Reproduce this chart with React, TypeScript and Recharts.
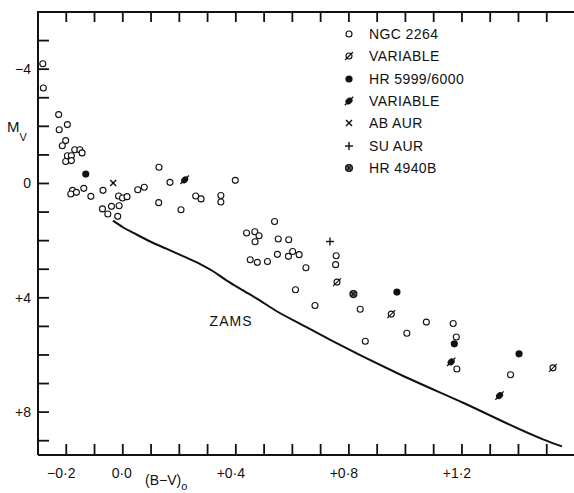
import React from "react";
import { ComposedChart, Scatter, Line, XAxis, YAxis, ReferenceDot } from "recharts";

const INK = "#111";
const FONT = "'Liberation Sans', Arial, Helvetica, sans-serif";
const TICK = 11;
const BV_MIN = -0.3;
const BV_MAX = 1.6;
const MV_TOP = -6;
const MV_BOTTOM = 9.5;

const CHART_W = 580;
const CHART_H = 493;
const MARGIN = { top: 12, right: 5, bottom: 0, left: 0 };
const Y_AXIS_W = 38;

// NGC 2264 members, (B-V)o against Mv
const ngc2264 = [
  { bv: -0.283, mv: -4.19 }, { bv: -0.281, mv: -3.34 }, { bv: -0.227, mv: -2.41 },
  { bv: -0.225, mv: -1.88 }, { bv: -0.196, mv: -2.06 }, { bv: -0.202, mv: -1.5 },
  { bv: -0.214, mv: -1.32 }, { bv: -0.17, mv: -1.18 }, { bv: -0.152, mv: -1.18 },
  { bv: -0.144, mv: -1.07 }, { bv: -0.196, mv: -0.97 }, { bv: -0.182, mv: -0.97 },
  { bv: -0.202, mv: -0.77 }, { bv: -0.182, mv: -0.8 }, { bv: -0.178, mv: 0.24 },
  { bv: -0.184, mv: 0.37 }, { bv: -0.164, mv: 0.31 }, { bv: -0.138, mv: 0.17 },
  { bv: -0.113, mv: 0.45 }, { bv: -0.07, mv: 0.24 }, { bv: -0.072, mv: 0.89 },
  { bv: -0.053, mv: 1.07 }, { bv: -0.04, mv: 0.8 }, { bv: -0.018, mv: 1.15 },
  { bv: -0.013, mv: 0.78 }, { bv: -0.015, mv: 0.44 }, { bv: -0.001, mv: 0.51 },
  { bv: 0.015, mv: 0.46 }, { bv: 0.053, mv: 0.22 }, { bv: 0.076, mv: 0.13 },
  { bv: 0.128, mv: -0.57 }, { bv: 0.127, mv: 0.67 }, { bv: 0.167, mv: -0.04 },
  { bv: 0.206, mv: 0.92 }, { bv: 0.258, mv: 0.44 }, { bv: 0.277, mv: 0.54 },
  { bv: 0.347, mv: 0.42 }, { bv: 0.347, mv: 0.65 }, { bv: 0.398, mv: -0.11 },
  { bv: 0.537, mv: 1.33 }, { bv: 0.438, mv: 1.73 }, { bv: 0.467, mv: 1.69 },
  { bv: 0.482, mv: 1.83 }, { bv: 0.468, mv: 2.04 }, { bv: 0.55, mv: 1.94 },
  { bv: 0.587, mv: 1.97 }, { bv: 0.451, mv: 2.67 }, { bv: 0.476, mv: 2.76 },
  { bv: 0.512, mv: 2.73 }, { bv: 0.547, mv: 2.48 }, { bv: 0.586, mv: 2.55 },
  { bv: 0.601, mv: 2.38 }, { bv: 0.624, mv: 2.49 }, { bv: 0.648, mv: 2.95 },
  { bv: 0.611, mv: 3.72 }, { bv: 0.68, mv: 4.27 }, { bv: 0.755, mv: 2.53 },
  { bv: 0.753, mv: 2.84 }, { bv: 0.84, mv: 4.4 }, { bv: 0.858, mv: 5.52 },
  { bv: 1.005, mv: 5.24 }, { bv: 1.074, mv: 4.85 }, { bv: 1.169, mv: 4.9 },
  { bv: 1.18, mv: 5.37 }, { bv: 1.182, mv: 6.49 }, { bv: 1.372, mv: 6.69 },
];
const ngcVariable = [
  { bv: 0.758, mv: 3.45 }, { bv: 0.95, mv: 4.57 }, { bv: 1.522, mv: 6.45 },
];
const hr5999 = [
  { bv: -0.131, mv: -0.33 }, { bv: 0.97, mv: 3.8 }, { bv: 1.173, mv: 5.61 }, { bv: 1.402, mv: 5.96 },
];
const hr5999Variable = [
  { bv: 0.219, mv: -0.13 }, { bv: 1.162, mv: 6.24 }, { bv: 1.333, mv: 7.42 },
];
const abAur = [{ bv: -0.034, mv: -0.02 }];
const suAur = [{ bv: 0.733, mv: 2.03 }];
const hr4940b = [{ bv: 0.816, mv: 3.87 }];

// zero-age main sequence
const zams = [
  { bv: -0.035, mv: 1.3 }, { bv: 0.002, mv: 1.54 }, { bv: 0.038, mv: 1.73 },
  { bv: 0.097, mv: 2.03 }, { bv: 0.156, mv: 2.29 }, { bv: 0.215, mv: 2.55 },
  { bv: 0.274, mv: 2.82 }, { bv: 0.321, mv: 3.08 }, { bv: 0.368, mv: 3.4 },
  { bv: 0.427, mv: 3.75 }, { bv: 0.486, mv: 4.1 }, { bv: 0.545, mv: 4.47 },
  { bv: 0.628, mv: 4.91 }, { bv: 0.734, mv: 5.47 }, { bv: 0.97, mv: 6.63 },
  { bv: 1.206, mv: 7.68 }, { bv: 1.489, mv: 8.96 }, { bv: 1.554, mv: 9.2 },
];

const xTicks = [-0.2, -0.1, 0, 0.1, 0.2, 0.3, 0.4, 0.5, 0.6, 0.7, 0.8, 0.9, 1.0, 1.1, 1.2, 1.3, 1.4, 1.5];
const xLabelValues = [-0.2, 0, 0.4, 0.8, 1.2];
const xLabelText = ["\u22120\u00b72", "0\u00b70", "+0\u00b74", "+0\u00b78", "+1\u00b72"];
const yTicks = [-5, -4, -3, -2, -1, 0, 1, 2, 3, 4, 5, 6, 7, 8, 9];
const yLabelValues = [-4, 0, 4, 8];
const yLabelText = ["\u22124", "0", "+4", "+8"];

const legendNames = ["NGC 2264", "VARIABLE", "HR 5999/6000", "VARIABLE", "AB AUR", "SU AUR", "HR 4940B"];

// ---- marker glyphs ----
const OpenCircle = ({ cx, cy }: any) => (
  <circle cx={cx} cy={cy} r={3} fill="#fff" stroke={INK} strokeWidth={1.1} />
);
const OpenVariable = ({ cx, cy }: any) => (
  <g>
    <circle cx={cx} cy={cy} r={3} fill="#fff" stroke={INK} strokeWidth={1.1} />
    <line x1={cx - 4} y1={cy + 4} x2={cx + 4} y2={cy - 4} stroke={INK} strokeWidth={1.1} />
  </g>
);
const FilledCircle = ({ cx, cy }: any) => <circle cx={cx} cy={cy} r={3.6} fill={INK} />;
const FilledVariable = ({ cx, cy }: any) => (
  <g>
    <ellipse cx={cx} cy={cy} rx={3.8} ry={3.1} fill={INK} transform={`rotate(-40 ${cx} ${cy})`} />
    <line x1={cx - 4.2} y1={cy + 4.2} x2={cx + 4.2} y2={cy - 4.2} stroke={INK} strokeWidth={1.3} />
  </g>
);
const Cross = ({ cx, cy }: any) => (
  <g stroke={INK} strokeWidth={1.4}>
    <line x1={cx - 3} y1={cy - 3} x2={cx + 3} y2={cy + 3} />
    <line x1={cx - 3} y1={cy + 3} x2={cx + 3} y2={cy - 3} />
  </g>
);
const Plus = ({ cx, cy }: any) => (
  <g stroke={INK} strokeWidth={1.4}>
    <line x1={cx - 4} y1={cy} x2={cx + 4} y2={cy} />
    <line x1={cx} y1={cy - 4} x2={cx} y2={cy + 4} />
  </g>
);
const CircledCross = ({ cx, cy }: any) => (
  <g>
    <circle cx={cx} cy={cy} r={3.4} fill="#777" stroke={INK} strokeWidth={1.3} />
    <line x1={cx - 2.3} y1={cy - 2.3} x2={cx + 2.3} y2={cy + 2.3} stroke={INK} strokeWidth={1.2} />
    <line x1={cx - 2.3} y1={cy + 2.3} x2={cx + 2.3} y2={cy - 2.3} stroke={INK} strokeWidth={1.2} />
  </g>
);
const legendGlyphs = [OpenCircle, OpenVariable, FilledCircle, FilledVariable, Cross, Plus, CircledCross];

// ---- inward ticks ----
const labelStyle = { fontFamily: FONT, fontSize: 14, fill: INK };

function BottomTick({ x, y, payload }: any) {
  const i = xLabelValues.findIndex((v) => Math.abs(v - payload.value) < 1e-6);
  const label = i >= 0 ? xLabelText[i] : null;
  const shift = label && label[0] !== "0" ? -5 : -1;
  return (
    <g>
      <line x1={x} y1={y} x2={x} y2={y - TICK} stroke={INK} strokeWidth={1.8} />
      {label && (
        <text x={x + shift} y={y + 23} textAnchor="middle" {...labelStyle}>{label}</text>
      )}
    </g>
  );
}
function LeftTick({ x, y, payload }: any) {
  const i = yLabelValues.indexOf(payload.value);
  return (
    <g>
      <line x1={x} y1={y} x2={x + TICK} y2={y} stroke={INK} strokeWidth={1.8} />
      {i >= 0 && (
        <text x={x - 7} y={y + 5} textAnchor="end" {...labelStyle}>{yLabelText[i]}</text>
      )}
    </g>
  );
}
function RightTick({ x, y }: any) {
  return <line x1={x} y1={y} x2={x - TICK} y2={y} stroke={INK} strokeWidth={1.8} />;
}

const MvLabel = ({ viewBox }: any) => (
  <text x={viewBox.x + 7} y={viewBox.y + 120} fontFamily={FONT} fontSize={15} fill={INK}>
    M<tspan dy={9} fontSize={11}>V</tspan>
  </text>
);
const BvLabel = ({ viewBox }: any) => (
  <text x={viewBox.x + 107} y={viewBox.y + 30} fontFamily={FONT} fontSize={14} fill={INK}>
    (B{"\u2212"}V)<tspan dy={5} fontSize={11}>o</tspan>
  </text>
);

// Top edge of the box with downward ticks, laid over the chart using the
// same plot box and B-V domain as the bottom axis.
function TopFrame() {
  const left = MARGIN.left + Y_AXIS_W;
  const right = CHART_W - MARGIN.right;
  const top = MARGIN.top;
  const sx = (bv: number) => left + ((bv - BV_MIN) / (BV_MAX - BV_MIN)) * (right - left);
  return (
    <svg
      width={CHART_W}
      height={40}
      style={{ position: "absolute", left: 0, top: 0, pointerEvents: "none" }}
    >
      <line x1={left - 1} y1={top} x2={right} y2={top} stroke={INK} strokeWidth={2} />
      {xTicks.map((v) => (
        <line key={v} x1={sx(v)} y1={top} x2={sx(v)} y2={top + 10} stroke={INK} strokeWidth={1.8} />
      ))}
    </svg>
  );
}

function Key() {
  return (
    <div style={{ position: "absolute", left: 342, top: 23, fontFamily: FONT, fontSize: 14, color: INK }}>
      {legendNames.map((name, i) => {
        const Glyph = legendGlyphs[i];
        return (
          <div key={i} style={{ display: "flex", alignItems: "center", height: 22.3, letterSpacing: 0.4 }}>
            <svg width={14} height={14} style={{ overflow: "visible" }}>
              <Glyph cx={7} cy={7} />
            </svg>
            <span style={{ marginLeft: 13 }}>{name}</span>
          </div>
        );
      })}
    </div>
  );
}

export default function App() {
  return (
    <div style={{ position: "absolute", left: 0, top: 0, width: 574, height: 493, overflow: "hidden", background: "#fff" }}>
      <ComposedChart width={CHART_W} height={CHART_H} margin={MARGIN}>
        <XAxis
          type="number" dataKey="bv" domain={[BV_MIN, BV_MAX]} ticks={xTicks} interval={0}
          height={38} tickSize={0} tickMargin={0} tickLine={false} tick={<BottomTick />}
          axisLine={{ stroke: INK, strokeWidth: 2 }} label={<BvLabel />}
        />
        <YAxis
          type="number" dataKey="mv" domain={[MV_TOP, MV_BOTTOM]} reversed ticks={yTicks} interval={0}
          width={Y_AXIS_W} tickSize={0} tickMargin={0} tickLine={false} tick={<LeftTick />}
          axisLine={{ stroke: INK, strokeWidth: 2 }} label={<MvLabel />}
        />
        <YAxis
          yAxisId="right" orientation="right" type="number" dataKey="mv" domain={[MV_TOP, MV_BOTTOM]} reversed
          ticks={yTicks} interval={0} width={0} tickSize={0} tickMargin={0} tickLine={false} tick={<RightTick />}
          axisLine={{ stroke: INK, strokeWidth: 2 }}
        />
        <Line data={zams} dataKey="mv" type="monotone" stroke={INK} strokeWidth={2} dot={false} isAnimationActive={false} />
        <Scatter data={ngc2264} shape={(p: any) => <OpenCircle cx={p.cx} cy={p.cy} />} isAnimationActive={false} />
        <Scatter data={ngcVariable} shape={(p: any) => <OpenVariable cx={p.cx} cy={p.cy} />} isAnimationActive={false} />
        <Scatter data={hr5999} shape={(p: any) => <FilledCircle cx={p.cx} cy={p.cy} />} isAnimationActive={false} />
        <Scatter data={hr5999Variable} shape={(p: any) => <FilledVariable cx={p.cx} cy={p.cy} />} isAnimationActive={false} />
        <Scatter data={abAur} shape={(p: any) => <Cross cx={p.cx} cy={p.cy} />} isAnimationActive={false} />
        <Scatter data={suAur} shape={(p: any) => <Plus cx={p.cx} cy={p.cy} />} isAnimationActive={false} />
        <Scatter data={hr4940b} shape={(p: any) => <CircledCross cx={p.cx} cy={p.cy} />} isAnimationActive={false} />
        <ReferenceDot
          x={0.383} y={4.83} r={0} fill="none" stroke="none"
          label={{ value: "ZAMS", position: "center", fill: INK, fontSize: 14, fontFamily: FONT, letterSpacing: 1 }}
        />
      </ComposedChart>
      <TopFrame />
      <Key />
    </div>
  );
}
